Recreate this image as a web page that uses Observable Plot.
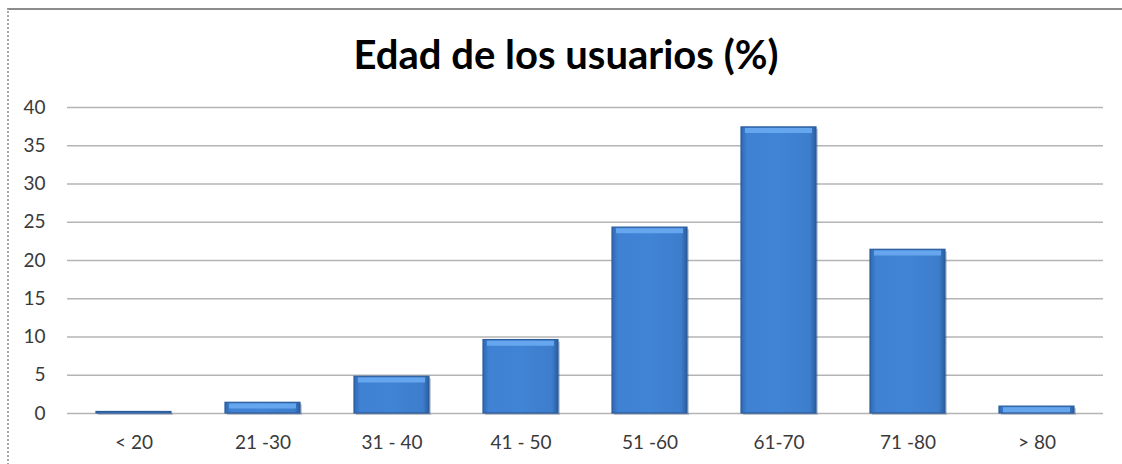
<!DOCTYPE html>
<html>
<head>
<meta charset="utf-8">
<script src="https://cdn.jsdelivr.net/npm/d3@7"></script>
<script src="https://cdn.jsdelivr.net/npm/@observablehq/plot@0.6"></script>
<style>
  html, body { margin: 0; padding: 0; background: #fff; }
  #wrap { position: relative; width: 1122px; height: 464px; overflow: hidden; }
  #frame { position: absolute; left: 7px; top: 8px; width: 1130px; height: 470px;
           border-top: 2px solid #8c8c8c; border-left: 2px dotted #a8a8a8; }
  #title { position: absolute; left: 0; top: 0; width: 1122px; height: 87px; box-sizing: border-box;
           padding-top: 30px; text-align: center; font-family: Lato, "Open Sans", sans-serif;
           font-weight: bold; font-size: 40px; color: #000; margin-left: 5px; }
  #chart { position: absolute; left: 0; top: 87px; }
</style>
</head>
<body>
<div id="wrap">
  <div id="frame"></div>
  <div id="title">Edad de los usuarios (%)</div>
  <div id="chart"></div>
</div>
<script>
const categories = ["< 20", "21 -30", "31 - 40", "41 - 50", "51 -60", "61-70", "71 -80", "> 80"];
const values = [0.2, 1.4, 4.8, 9.6, 24.3, 37.4, 21.4, 0.9];
const yTicks = [0, 5, 10, 15, 20, 25, 30, 35, 40];

const data = categories.map((c, i) => ({category: c, value: values[i]}));

const plot = Plot.plot({
  width: 1122,
  height: 377,
  marginLeft: 67,
  marginRight: 19,
  marginTop: 20,
  marginBottom: 51,
  style: {fontFamily: "Lato, 'Open Sans', sans-serif", fontSize: "19px", color: "#3a3a3a", background: "transparent", overflow: "visible"},
  x: {domain: categories, paddingInner: 0.42, paddingOuter: 0.21, label: null, tickSize: 0, tickPadding: 22},
  y: {domain: [0, 40], ticks: yTicks, label: null, tickSize: 0, tickPadding: 22},
  marks: [
    Plot.gridY(yTicks, {stroke: "#b4b4b4", strokeOpacity: 1, strokeWidth: 1.5}),
    Plot.barY(data, {x: "category", y: "value", fill: "#1f3f6a", fillOpacity: 0.25, dx: 2, dy: 2}),
    Plot.barY(data, {x: "category", y: "value", fill: "url(#barGrad)", stroke: "#2c5c9c", strokeWidth: 1.2}),
    Plot.tickY(data.filter(d => d.value >= 0.5), {x: "category", y: "value", stroke: "#66a6ee", strokeWidth: 5, dy: 3.2, insetLeft: 4, insetRight: 4}),
    Plot.axisY(yTicks, {tickSize: 0, tickPadding: 22, fill: "#3a3a3a"}),
    Plot.axisX({tickSize: 0, tickPadding: 22, fill: "#3a3a3a"})
  ]
});

const ns = "http://www.w3.org/2000/svg";
const defs = document.createElementNS(ns, "defs");
defs.innerHTML = `
  <linearGradient id="barGrad" x1="0" y1="0" x2="1" y2="0">
    <stop offset="0" stop-color="#2f68b4"/>
    <stop offset="0.08" stop-color="#3f81d3"/>
    <stop offset="0.5" stop-color="#4084d5"/>
    <stop offset="0.92" stop-color="#3d7dcc"/>
    <stop offset="1" stop-color="#2a5d9f"/>
  </linearGradient>`;
plot.insertBefore(defs, plot.firstChild);
document.getElementById("chart").appendChild(plot);
</script>
</body>
</html>
